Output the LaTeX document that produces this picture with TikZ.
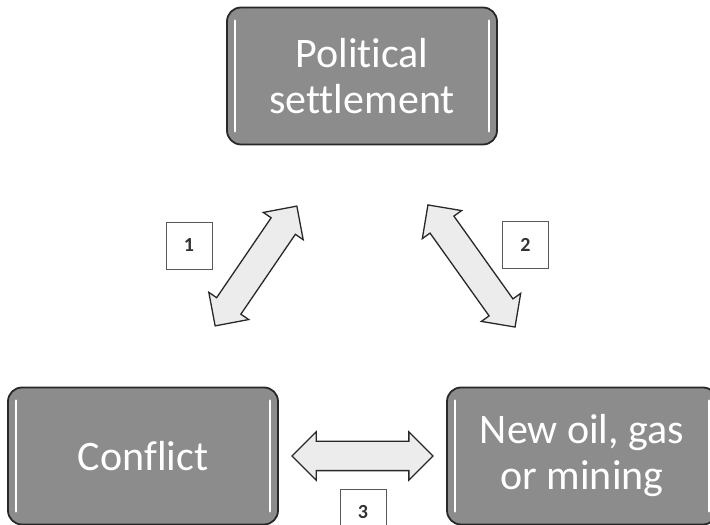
\documentclass[tikz,border=0pt]{standalone}
\usepackage{fontspec}
\setmainfont[Ligatures={NoCommon}]{Carlito}
\usetikzlibrary{shapes.arrows}
\definecolor{boxgray}{RGB}{140,140,140}
\definecolor{arrowfill}{RGB}{236,236,236}
\definecolor{edgedark}{RGB}{40,40,40}
\tikzset{
  mainbox/.style={draw=edgedark, line width=1.8pt, fill=boxgray, rounded corners=14pt,
    minimum width=270pt, minimum height=137pt, inner sep=0pt, text=white, align=center,
    font=\fontsize{42}{46}\selectfont},
  gloss/.style={draw=white, line width=2.4pt, line cap=round},
  dblarrow/.style={double arrow, draw=edgedark, line width=1.3pt, fill=arrowfill,
    double arrow head extend=9.5pt, inner sep=0pt, text height=28pt, text depth=0pt, text width=0pt},
  numbox/.style={draw=black!65, line width=0.8pt, fill=white, minimum width=46pt,
    minimum height=47pt, inner sep=0pt, text=black!80, font=\fontsize{20}{22}\selectfont\bfseries}
}
\begin{document}
\begin{tikzpicture}[x=1pt,y=1pt]
\useasboundingbox (0,0) rectangle (710,525);
% main boxes
\node[mainbox] (top) at (362,449) {Political\\settlement};
\node[mainbox] (conf) at (143,69) {Conflict};
\node[mainbox] (oil) at (582,69) {New oil, gas\\or mining};
\foreach \n in {top,conf,oil}{
  \draw[gloss] ([xshift=9pt,yshift=-14pt]\n.north west) -- ([xshift=9pt,yshift=14pt]\n.south west);
  \draw[gloss] ([xshift=-9pt,yshift=-14pt]\n.north east) -- ([xshift=-9pt,yshift=14pt]\n.south east);
}
% block arrows
\node[dblarrow, minimum height=145pt, rotate=55.7] (a1) at (256,259) {};
\node[dblarrow, minimum height=150pt, rotate=-54.5] (a2) at (471.5,259) {};
\node[dblarrow, minimum height=141pt] (a3) at (362.5,69) {};
% number boxes
\node[numbox] (n1) at (189,279.5) {1};
\node[numbox] (n2) at (525.5,280) {2};
\node[numbox] (n3) at (363,12.5) {3};
\end{tikzpicture}
\end{document}
